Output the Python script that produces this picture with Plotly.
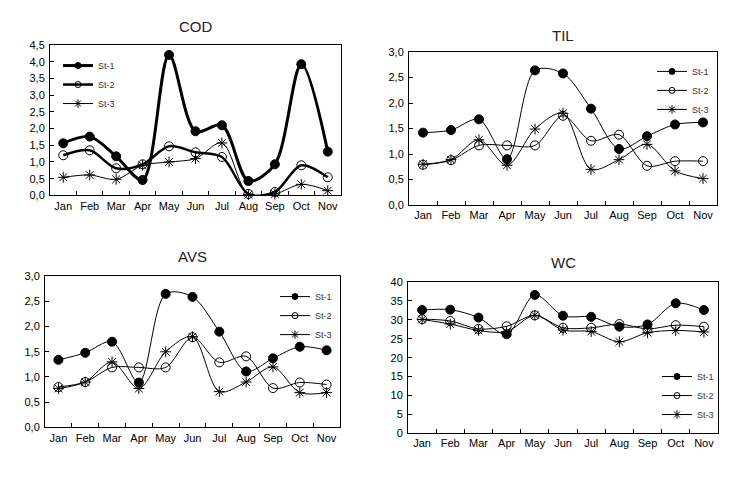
import plotly.graph_objects as go

months = ["Jan", "Feb", "Mar", "Apr", "May", "Jun", "Jul", "Aug", "Sep", "Oct", "Nov"]
stations = ["St-1", "St-2", "St-3"]

cod_st1 = [1.56, 1.76, 1.17, 0.46, 4.21, 1.92, 2.10, 0.43, 0.93, 3.93, 1.31]
cod_st2 = [1.20, 1.35, 0.81, 0.93, 1.47, 1.29, 1.15, 0.04, 0.10, 0.90, 0.54]
cod_st3 = [0.54, 0.61, 0.48, 0.90, 1.00, 1.10, 1.57, 0.02, 0.04, 0.33, 0.14]

til_st1 = [1.42, 1.47, 1.68, 0.90, 2.64, 2.58, 1.89, 1.10, 1.35, 1.58, 1.62]
til_st2 = [0.79, 0.88, 1.17, 1.17, 1.17, 1.75, 1.26, 1.38, 0.77, 0.86, 0.86]
til_st3 = [0.80, 0.89, 1.28, 0.78, 1.49, 1.80, 0.70, 0.89, 1.19, 0.67, 0.52]

avs_st1 = [1.34, 1.48, 1.70, 0.89, 2.65, 2.59, 1.90, 1.11, 1.37, 1.60, 1.53]
avs_st2 = [0.80, 0.90, 1.19, 1.19, 1.19, 1.79, 1.29, 1.41, 0.78, 0.89, 0.85]
avs_st3 = [0.77, 0.90, 1.30, 0.77, 1.50, 1.80, 0.71, 0.90, 1.20, 0.69, 0.69]

wc_st1 = [32.6, 32.7, 30.6, 26.2, 36.6, 31.1, 30.8, 28.2, 28.8, 34.4, 32.6]
wc_st2 = [30.2, 29.7, 27.6, 28.3, 31.2, 27.9, 27.9, 28.9, 27.6, 28.6, 28.2]
wc_st3 = [30.1, 28.9, 27.2, 26.9, 31.2, 27.3, 26.9, 24.2, 26.6, 27.2, 26.8]

W, H = 751, 478
OFF = 8  # page body margin compensation
FONT = "Liberation Sans, Arial, sans-serif"

panels = [
    dict(name="COD", data=[cod_st1, cod_st2, cod_st3], box=(50, 341, 40, 194),
         yr=[0, 4.5], dt=0.5, fmt=".1f", leg=(58, 46), widths=[3, 2.5, 1], ty=21),
    dict(name="TIL", data=[til_st1, til_st2, til_st3], box=(409, 717, 47, 204),
         yr=[0, 3.0], dt=0.5, fmt=".1f", leg=(652, 52), widths=[1, 1, 1], ty=30),
    dict(name="AVS", data=[avs_st1, avs_st2, avs_st3], box=(45, 340, 277, 432),
         yr=[0, 3.0], dt=0.5, fmt=".1f", leg=(275, 283), widths=[1, 1, 1], ty=257),
    dict(name="WC", data=[wc_st1, wc_st2, wc_st3], box=(408, 718, 283, 438),
         yr=[0, 40], dt=5, fmt="d", leg=(657, 365), widths=[1, 1, 1], ty=263),
]

symbols = ["circle", "circle-open", "asterisk-open"]
sizes = [9, 9, 9]
leg_sizes = [6, 6, 7]


def px_x(v):
    return (v - OFF) / W


def px_y(v):
    return 1 - (v - OFF) / H


fig = go.Figure()
layout = dict(width=W, height=H, margin=dict(l=0, r=0, t=0, b=0),
              paper_bgcolor="white", plot_bgcolor="white",
              font=dict(family=FONT, size=11, color="black"),
              separators=", ", showlegend=True, annotations=[])

for i, p in enumerate(panels):
    k = "" if i == 0 else str(i + 1)
    xa, ya = "x" + k, "y" + k
    lg = "legend" + k
    x0, x1, y0, y1 = p["box"]
    for j, (st, vals) in enumerate(zip(stations, p["data"])):
        fig.add_trace(go.Scatter(
            x=months, y=vals, name=st, xaxis=xa, yaxis=ya, showlegend=False,
            mode="lines+markers",
            line=dict(color="black", width=p["widths"][j], shape="spline", smoothing=0.9),
            marker=dict(symbol=symbols[j], size=sizes[j], color="black",
                        line=dict(color="black", width=1)),
            cliponaxis=False,
        ))
    for j, st in enumerate(stations):
        fig.add_trace(go.Scatter(
            x=[None], y=[None], name=st, xaxis=xa, yaxis=ya, legend=lg,
            mode="lines+markers",
            line=dict(color="black", width=p["widths"][j]),
            marker=dict(symbol=symbols[j], size=leg_sizes[j], color="black",
                        line=dict(color="black", width=1)),
        ))
    common = dict(showline=True, linecolor="black", linewidth=1, mirror=True,
                  ticks="inside", ticklen=4, tickcolor="black", showgrid=False,
                  zeroline=False, tickfont=dict(size=11, family=FONT))
    layout["xaxis" + k] = dict(domain=[px_x(x0), px_x(x1)], anchor=ya, tickangle=0,
                               tickson="boundaries", range=[-0.5, 10.5], **common)
    layout["yaxis" + k] = dict(domain=[px_y(y1), px_y(y0)], anchor=xa,
                               range=p["yr"], dtick=p["dt"], tick0=0,
                               tickformat=p["fmt"], ticklabelstandoff=2, **common)
    lx, ly = p["leg"]
    layout[lg] = dict(x=px_x(lx), y=px_y(ly), xanchor="left", yanchor="top",
                      bgcolor="rgba(0,0,0,0)", font=dict(size=9, color="#333", family=FONT),
                      itemwidth=30, tracegroupgap=0)
    layout["annotations"].append(dict(
        text=p["name"], x=px_x((x0 + x1) / 2), y=px_y(p["ty"]), xref="paper", yref="paper",
        showarrow=False, xanchor="center", yanchor="middle",
        font=dict(size=15, family=FONT, color="#222", weight="normal")))

fig.update_layout(**layout)
fig.write_html("out.html")
